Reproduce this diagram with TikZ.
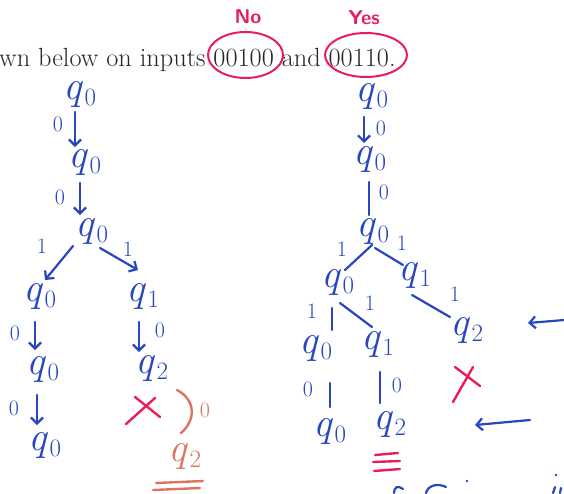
\documentclass[tikz,border=0pt]{standalone}
\usetikzlibrary{arrows.meta,calc}
\definecolor{pen}{RGB}{40,70,190}
\definecolor{redpen}{RGB}{232,30,90}
\definecolor{salmon}{RGB}{222,115,95}
\newcommand{\qsub}[1]{\textit{q}\kern1pt\raisebox{-6pt}{\fontsize{25}{25}\selectfont #1}}
\begin{document}
\begin{tikzpicture}[x=1pt,y=-1pt,
  st/.style={text=pen,font=\fontsize{41}{41}\selectfont,inner sep=0pt,text height=18pt,text depth=9pt},
  lab/.style={text=pen,font=\fontsize{22}{22}\selectfont,inner sep=0pt,text height=14pt,text depth=0pt},
  pedge/.style={draw=pen,line width=2.2pt,line cap=round},
  parr/.style={pedge,-{Straight Barb[length=6pt,width=12pt]}},
  redline/.style={draw=redpen,line width=2.4pt,line cap=round},
  salline/.style={draw=salmon,line width=2.4pt,line cap=round},
]
\useasboundingbox (0,0) rectangle (564,493);
% printed text
\node[anchor=base west,inner sep=0pt,font=\fontsize{26.3}{26.3}\selectfont,text=black!85] (txt) at (-1,66) {wn below on inputs 00100 and 00110.};
\draw[redline,line width=2pt] (245.5,55) ellipse [x radius=37.5, y radius=23];
\draw[redline,line width=2pt] (366,55) ellipse [x radius=41, y radius=22];
\node[text=redpen,font=\fontsize{20}{20}\selectfont\sffamily\bfseries,inner sep=0pt] (no) at (248,17) {No};
\node[text=redpen,font=\fontsize{20}{20}\selectfont\sffamily\bfseries,inner sep=0pt] (yes) at (364,18) {Yes};

% left tree
\node[st] (A0) at (80,95) {\qsub0};
\node[st] (A1) at (85,163) {\qsub0};
\node[st] (A2) at (92,232) {\qsub0};
\node[st] (A3) at (40,297) {\qsub0};
\node[st] (A4) at (43,370) {\qsub0};
\node[st] (A5) at (45,446) {\qsub0};
\node[st] (B1) at (143,297) {\qsub1};
\node[st] (B2) at (152,369) {\qsub2};
\draw[parr] ($(A0)+(-5,17)$) -- ($(A1)+(-10,-16)$);
\draw[parr] ($(A1)+(-5,20)$) -- ($(A2)+(-12,-17)$);
\draw[parr] ($(A2)+(-19,14)$) -- ($(A3)+(5,-17)$);
\draw[parr] ($(A2)+(8,16)$) -- ($(B1)+(-5,-27)$);
\draw[parr] ($(A3)+(-5,25)$) -- ($(A4)+(-8,-20)$);
\draw[parr] ($(A4)+(-6,25)$) -- ($(A5)+(-8,-21)$);
\draw[parr] ($(B1)+(-4,25)$) -- ($(B2)+(-13,-17)$);
\node[lab] (la1) at (58,124) {0};
\node[lab] (la2) at (60,197) {0};
\node[lab] (la3) at (42,246) {1};
\node[lab] (la4) at (128,249) {1};
\node[lab] (la5) at (15,333) {0};
\node[lab] (la6) at (14,408) {0};
\node[lab] (la7) at (160,330) {0};
% red X left
\draw[redline] (135,397) -- (160,417);
\draw[redline] (126,424) -- (155,398);
% salmon annotation
\draw[salline] (177,390) .. controls (196,400) and (196,420) .. (181,433);
\node[lab,text=salmon] (sal0) at (205,410) {0};
\node[st,text=salmon] (salq) at (185,457) {\qsub2};
\draw[salline] (156,483) -- (203,481);
\draw[salline] (153,490) -- (200,488);

% right tree
\node[st] (C0) at (372,97) {\qsub0};
\node[st] (C1) at (370,160) {\qsub0};
\node[st] (C2) at (373,232) {\qsub0};
\node[st] (C3) at (338,283) {\qsub0};
\node[st] (D1) at (415,276) {\qsub1};
\node[st] (C4) at (316,349) {\qsub0};
\node[st] (E1) at (378,345) {\qsub1};
\node[st] (D2) at (467,331) {\qsub2};
\node[st] (C5) at (330,432) {\qsub0};
\node[st] (E2) at (390,425) {\qsub2};
\draw[parr] ($(C0)+(-8,20)$) -- ($(C1)+(-6,-17)$);
\draw[pedge] ($(C1)+(-1,22)$) -- ($(C2)+(-4,-17)$);
\draw[pedge] ($(C2)+(-1,13)$) -- ($(C3)+(7,-13)$);
\draw[pedge] ($(C2)+(2,16)$) -- ($(D1)+(-12,-11)$);
\draw[pedge] ($(C3)+(-6,25)$) -- ($(C4)+(16,-19)$);
\draw[pedge] ($(C3)+(2,20)$) -- ($(E1)+(-6,-18)$);
\draw[pedge] ($(D1)+(-3,19)$) -- ($(D2)+(-17,-14)$);
\draw[pedge] ($(C4)+(14,34)$) -- ($(C5)+(0,-25)$);
\draw[pedge] ($(E1)+(2,27)$) -- ($(E2)+(-10,-22)$);
\node[lab] (lc1) at (381,128) {0};
\node[lab] (lc2) at (384,192) {0};
\node[lab] (lc3) at (342,249) {1};
\node[lab] (lc4) at (402,243) {1};
\node[lab] (lc5) at (312,311) {1};
\node[lab] (lc6) at (370,303) {1};
\node[lab] (lc7) at (455,294) {1};
\node[lab] (lc8) at (308,389) {0};
\node[lab] (lc9) at (397,385) {0};
% red X right
\draw[redline] (455,367) -- (480,386);
\draw[redline] (453,402) -- (473,367);
% red triple underline
\draw[redline] (375,455) -- (398,453);
\draw[redline] (373,462) -- (400,461);
\draw[redline] (374,471) -- (400,469);
% pointer arrows
\coordinate (p1s) at (564,320);
\coordinate (p1e) at (528,323);
\coordinate (p2s) at (530,420);
\coordinate (p2e) at (475,425);
\draw[parr] (p1s) -- (p1e);
\draw[parr] (p2s) -- (p2e);
% cut-off handwriting at bottom
\draw[pedge] (403,489) .. controls (398,485) and (394,487) .. (394,493);
\draw[pedge] (446,487) .. controls (438,483) and (428,485) .. (426,493);
\fill[pen] (467,481) circle (1.4);
\fill[pen] (556,475) circle (1.4);
\draw[pedge] (553,493) -- (555,487);
\draw[pedge] (560,493) -- (561,488);
\end{tikzpicture}
\end{document}
